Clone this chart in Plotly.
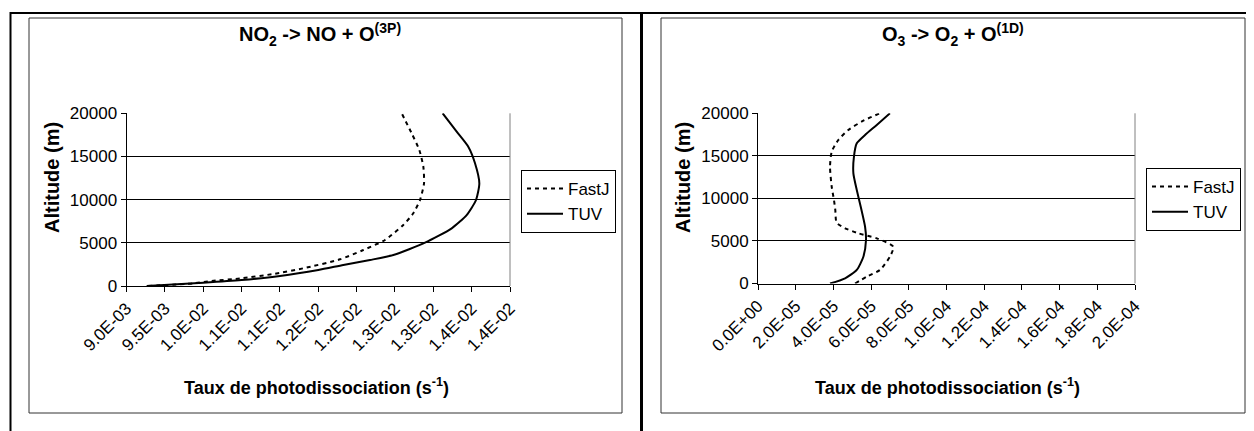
import plotly.graph_objects as go

W, H = 1254, 431
OFF = 8  # page body margin offset in the screenshot

# ---------------- data ----------------
no2_fastj_alt = [0, 312, 579, 892, 1390, 2050, 3090, 4170, 5330, 7065, 8420, 9960, 11890, 13820, 15750, 17680, 20000]
no2_fastj_val = [0.00928, 0.00987, 0.010110, 0.010502, 0.010914, 0.011305, 0.011784, 0.012088, 0.012370,
                 0.012609, 0.012739, 0.012827, 0.012879, 0.012870, 0.012818, 0.012718, 0.012588]
no2_tuv_alt = [0, 382, 695, 1158, 1853, 2432, 3011, 3590, 5015, 6680, 8220, 9960, 11890, 14210, 16130, 17870, 20000]
no2_tuv_val = [0.009263, 0.010001, 0.010502, 0.011001, 0.011501, 0.011827, 0.012175, 0.012479, 0.012892,
               0.013240, 0.013435, 0.013557, 0.013600, 0.013544, 0.013456, 0.013305, 0.013122]

o3_fastj_alt = [0, 800, 1590, 3150, 4320, 5310, 5900, 6490, 7150, 8640, 9810, 11370, 13720, 15490, 16860, 18040, 19130, 20000]
o3_fastj_val = [5.15e-5, 5.77e-5, 6.47e-5, 7.00e-5, 7.18e-5, 6.30e-5, 5.32e-5, 4.62e-5, 4.17e-5, 4.10e-5,
                4.03e-5, 3.91e-5, 3.82e-5, 3.91e-5, 4.26e-5, 4.79e-5, 5.59e-5, 6.47e-5]
o3_tuv_alt = [0, 610, 1590, 3150, 5110, 6670, 9020, 10990, 12950, 14900, 16470, 17450, 18630, 20000]
o3_tuv_val = [3.82e-5, 4.62e-5, 5.24e-5, 5.59e-5, 5.73e-5, 5.68e-5, 5.45e-5, 5.24e-5, 5.06e-5, 5.09e-5,
              5.24e-5, 5.68e-5, 6.30e-5, 7.00e-5]

no2_xticks = [0.009 + 0.0005 * i for i in range(11)]
no2_xlabels = ["9.0E-03", "9.5E-03", "1.0E-02", "1.1E-02", "1.1E-02", "1.2E-02",
               "1.2E-02", "1.3E-02", "1.3E-02", "1.4E-02", "1.4E-02"]
o3_xticks = [2e-5 * i for i in range(11)]
o3_xlabels = ["0.0E+00", "2.0E-05", "4.0E-05", "6.0E-05", "8.0E-05", "1.0E-04",
              "1.2E-04", "1.4E-04", "1.6E-04", "1.8E-04", "2.0E-04"]
y_ticks = [0, 5000, 10000, 15000, 20000]
y_labels = ["0", "5000", "10000", "15000", "20000"]

series_names = ["FastJ", "TUV"]
title_left = "<b>NO<sub>2</sub> -> NO + O<sup>(3P)</sup></b>"
title_right = "<b>O<sub>3</sub> -> O<sub>2</sub> + O<sup>(1D)</sup></b>"
xtitle = "<b>Taux de photodissociation (s<sup>-1</sup>)</b>"
ytitle = "<b>Altitude (m)</b>"

FONT = "Liberation Sans, Arial, sans-serif"


def px(x):
    return (x - OFF) / W


def py(y):
    return 1 - (y - OFF) / H


fig = go.Figure()
dot = "4px,4px"
fig.add_trace(go.Scatter(x=no2_fastj_val, y=no2_fastj_alt, name=series_names[0], mode="lines",
                         line=dict(color="black", width=2, dash=dot, shape="spline", smoothing=0.6),
                         xaxis="x", yaxis="y", legend="legend"))
fig.add_trace(go.Scatter(x=no2_tuv_val, y=no2_tuv_alt, name=series_names[1], mode="lines",
                         line=dict(color="black", width=2, shape="spline", smoothing=0.6),
                         xaxis="x", yaxis="y", legend="legend"))
fig.add_trace(go.Scatter(x=o3_fastj_val, y=o3_fastj_alt, name=series_names[0], mode="lines",
                         line=dict(color="black", width=2, dash=dot, shape="spline", smoothing=0.6),
                         xaxis="x2", yaxis="y2", legend="legend2"))
fig.add_trace(go.Scatter(x=o3_tuv_val, y=o3_tuv_alt, name=series_names[1], mode="lines",
                         line=dict(color="black", width=2, shape="spline", smoothing=0.6),
                         xaxis="x2", yaxis="y2", legend="legend2"))

tickfont = dict(family=FONT, size=17, color="black")


def xaxis_cfg(dom, rng, tv, tt, anchor):
    return dict(domain=dom, range=rng, tickvals=tv, ticktext=tt, tickangle=-45,
                showline=True, linecolor="black", linewidth=1, ticks="outside", ticklen=5,
                tickcolor="black", tickwidth=1, showgrid=False, zeroline=False,
                tickfont=tickfont, anchor=anchor, fixedrange=True, automargin=False)


def yaxis_cfg(dom, anchor):
    return dict(domain=dom, range=[0, 20000], tickvals=y_ticks, ticktext=y_labels,
                showline=True, linecolor="black", linewidth=1, ticks="outside", ticklen=5,
                tickcolor="black", tickwidth=1, showgrid=True, gridcolor="black", gridwidth=1,
                zeroline=False, tickfont=tickfont, anchor=anchor, fixedrange=True, automargin=False)


L = dict(x0=126.5, x1=510, y0=113.3, y1=286)
R = dict(x0=758, x1=1135, y0=113.3, y1=283.5)

legend_common = dict(bgcolor="white", bordercolor="black", borderwidth=1,
                     font=dict(family=FONT, size=17, color="black"),
                     xanchor="left", yanchor="top", tracegroupgap=0, itemwidth=36)

fig.update_layout(
    width=W, height=H, margin=dict(l=0, r=0, t=0, b=0, pad=0, autoexpand=False),
    paper_bgcolor="white", plot_bgcolor="white", showlegend=True,
    xaxis=xaxis_cfg([px(L["x0"]), px(L["x1"])], [0.009, 0.014], no2_xticks, no2_xlabels, "y"),
    yaxis=yaxis_cfg([py(L["y1"]), py(L["y0"])], "x"),
    xaxis2=xaxis_cfg([px(R["x0"]), px(R["x1"])], [0, 2e-4], o3_xticks, o3_xlabels, "y2"),
    yaxis2=yaxis_cfg([py(R["y1"]), py(R["y0"])], "x2"),
    legend=dict(x=px(521), y=py(170), **legend_common),
    legend2=dict(x=px(1146), y=py(168), **legend_common),
)

shapes = []
# outer frame
shapes.append(dict(type="line", xref="paper", yref="paper", x0=px(10), x1=1.02, y0=py(13), y1=py(13),
                   line=dict(color="black", width=2)))
shapes.append(dict(type="line", xref="paper", yref="paper", x0=px(10.5), x1=px(10.5), y0=py(12), y1=-0.05,
                   line=dict(color="black", width=2)))
shapes.append(dict(type="line", xref="paper", yref="paper", x0=px(641.5), x1=px(641.5), y0=py(12), y1=-0.05,
                   line=dict(color="black", width=3)))
# chart boxes
for x0, x1 in [(29, 622), (661, 1245)]:
    shapes.append(dict(type="rect", xref="paper", yref="paper", x0=px(x0), x1=px(x1), y0=py(18), y1=py(413),
                       line=dict(color="#333333", width=1)))
# plot-area right edges (gray)
for P in (L, R):
    shapes.append(dict(type="line", xref="paper", yref="paper", x0=px(P["x1"]), x1=px(P["x1"]),
                       y0=py(P["y1"]), y1=py(P["y0"]), line=dict(color="#808080", width=1)))
fig.update_layout(shapes=shapes)

ann = []
for cx, t in [(320, title_left), (953, title_right)]:
    ann.append(dict(text=t, x=px(cx), y=py(34), xref="paper", yref="paper", showarrow=False,
                    xanchor="center", yanchor="middle", font=dict(family=FONT, size=20, color="black")))
for cx in (316, 947):
    ann.append(dict(text=xtitle, x=px(cx), y=py(386), xref="paper", yref="paper", showarrow=False,
                    xanchor="center", yanchor="middle", font=dict(family=FONT, size=18, color="black")))
for cx in (52, 683):
    ann.append(dict(text=ytitle, x=px(cx), y=py(178), xref="paper", yref="paper", showarrow=False,
                    textangle=-90, xanchor="center", yanchor="middle",
                    font=dict(family=FONT, size=20, color="black")))
fig.update_layout(annotations=ann)

fig.write_html("out.html")
